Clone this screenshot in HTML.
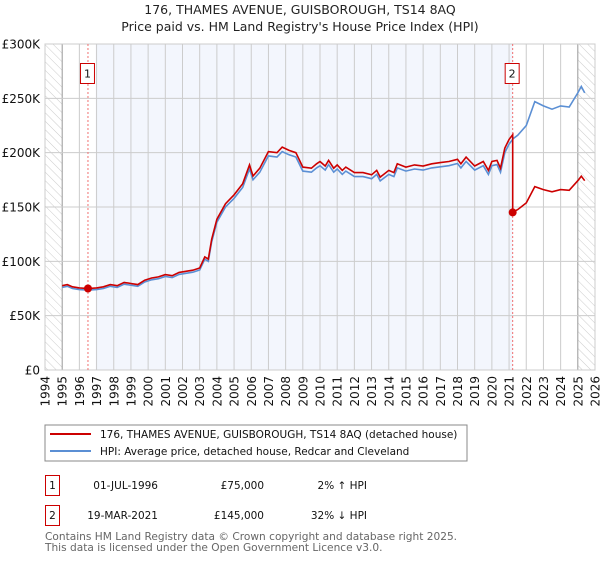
<!DOCTYPE html>
<html><head><meta charset="utf-8"><style>
body{margin:0;background:#fff;font-family:"Liberation Sans","DejaVu Sans",sans-serif}
svg text{font-family:"DejaVu Sans","Liberation Sans",sans-serif}
</style></head><body>
<svg id="c" width="600" height="560" xmlns="http://www.w3.org/2000/svg">
<defs><pattern id="hatch" width="6" height="6" patternUnits="userSpaceOnUse" patternTransform="rotate(-45)"><line x1="0" y1="0" x2="0" y2="6" stroke="#ccc" stroke-width="1"/></pattern></defs>
<text x="300" y="14" text-anchor="middle" font-size="12.5" fill="#222">176, THAMES AVENUE, GUISBOROUGH, TS14 8AQ</text>
<text x="300" y="31" text-anchor="middle" font-size="12.5" fill="#222">Price paid vs. HM Land Registry's House Price Index (HPI)</text>
<g id="plot"></g>
<rect x="45" y="425" width="422" height="36" fill="#fff" stroke="#888"/>
<line x1="50" y1="434" x2="91" y2="434" stroke="#cc0000" stroke-width="2"/>
<text x="100" y="438" font-size="10.5" fill="#111">176, THAMES AVENUE, GUISBOROUGH, TS14 8AQ (detached house)</text>
<line x1="50" y1="451" x2="91" y2="451" stroke="#5b8fd4" stroke-width="2"/>
<text x="100" y="455" font-size="10.5" fill="#111">HPI: Average price, detached house, Redcar and Cleveland</text>
<g font-size="10.5" fill="#111">
<rect x="45.5" y="475.5" width="14" height="20" fill="#fff" stroke="#cc0000"/>
<text x="52.5" y="489" text-anchor="middle">1</text>
<text x="158" y="489" text-anchor="end">01-JUL-1996</text>
<text x="264" y="489" text-anchor="end">£75,000</text>
<text x="367" y="489" text-anchor="end">2% ↑ HPI</text>
<rect x="45.5" y="505.5" width="14" height="20" fill="#fff" stroke="#cc0000"/>
<text x="52.5" y="519" text-anchor="middle">2</text>
<text x="158" y="519" text-anchor="end">19-MAR-2021</text>
<text x="264" y="519" text-anchor="end">£145,000</text>
<text x="367" y="519" text-anchor="end">32% ↓ HPI</text>
</g>
<text x="45" y="540" font-size="10.6" fill="#666">Contains HM Land Registry data © Crown copyright and database right 2025.</text>
<text x="45" y="551" font-size="10.6" fill="#666">This data is licensed under the Open Government Licence v3.0.</text>
</svg>
<script>
const hpiYears=[1995,1995.3,1995.6,1996,1996.5,1997,1997.4,1997.8,1998.2,1998.6,1999,1999.4,1999.8,2000.2,2000.6,2001,2001.4,2001.8,2002.2,2002.6,2003,2003.3,2003.5,2003.7,2004,2004.5,2005,2005.5,2005.9,2006.1,2006.5,2007,2007.5,2007.8,2008.2,2008.6,2009,2009.5,2009.8,2010,2010.3,2010.5,2010.8,2011,2011.3,2011.5,2012,2012.5,2013,2013.3,2013.5,2014,2014.3,2014.5,2015,2015.5,2016,2016.5,2017,2017.5,2018,2018.2,2018.5,2019,2019.5,2019.8,2020,2020.3,2020.5,2020.75,2021,2021.25,2021.5,2022,2022.5,2023,2023.5,2024,2024.5,2025,2025.2,2025.4];
const hpiValues=[76,77,75,74,73.5,74,75,77,76,79,78,77,81,83,84,86,85,88,89,90,92,102,100,118,136,150,158,168,185,175,182,197,196,201,198,196,183,182,186,188,184,189,182,185,180,183,178,178,176,180,174,180,178,186,183,185,184,186,187,188,190,186,192,184,188,180,188,189,182,200,208,213,216,225,247,243,240,243,242,255,261,255];
const saleDates=[1996.5,2021.21];
const salePrices=[75,145];
const yTicks=[0,50,100,150,200,250,300];
const yTickLabels=["£0","£50K","£100K","£150K","£200K","£250K","£300K"];
const xTicks=[];for(let y=1994;y<=2026;y++)xTicks.push(y);
const X0=45,X1=595,Y0=370,Y1=44;
const xs=t=>X0+(t-1994)/(2026-1994)*(X1-X0);
const ys=v=>Y0-v/300*(Y0-Y1);
const NS="http://www.w3.org/2000/svg";
const g=document.getElementById('plot');
function mk(tag,attrs){const e=document.createElementNS(NS,tag);for(const k in attrs)e.setAttribute(k,attrs[k]);g.appendChild(e);return e;}
function hpiAt(t){for(let i=0;i<hpiYears.length-1;i++){if(t>=hpiYears[i]&&t<=hpiYears[i+1]){const f=(t-hpiYears[i])/(hpiYears[i+1]-hpiYears[i]);return hpiValues[i]+f*(hpiValues[i+1]-hpiValues[i]);}}return hpiValues[hpiValues.length-1];}
let e;
e=mk('rect',{x:X0,y:Y1,width:X1-X0,height:Y0-Y1,fill:'#fff'});

e=mk('rect',{x:xs(saleDates[0]+0.45),y:Y1,width:xs(saleDates[1])-xs(saleDates[0]+0.45),height:Y0-Y1,fill:'#f3f6fd'});

e=mk('rect',{x:X0,y:Y1,width:xs(1995)-X0,height:Y0-Y1,fill:'url(#hatch)'});

e=mk('rect',{x:xs(2025),y:Y1,width:X1-xs(2025),height:Y0-Y1,fill:'url(#hatch)'});

xTicks.forEach(t=>{const x=xs(t);
 e=mk('line',{x1:x,x2:x,y1:Y1,y2:Y0,stroke:(t==1995||t==2025)?'#999':'#ccc','stroke-width':1});
 
 e=mk('text',{x:0,y:0,'font-size':12,fill:'#111','text-anchor':'end',transform:`translate(${x+4.5},${Y0+6}) rotate(-90)`});
 e.textContent=t;
 });
yTicks.forEach((v,i)=>{const y=ys(v);
 e=mk('line',{x1:X0,x2:X1,y1:y,y2:y,stroke:'#ccc','stroke-width':1});
 
 e=mk('text',{x:40,y:y+4.5,'font-size':12,fill:'#111','text-anchor':'end'});
 e.textContent=yTickLabels[i];
 });
e=mk('rect',{x:X0,y:Y1,width:X1-X0,height:Y0-Y1,fill:'none',stroke:'#ccc'});

saleDates.forEach((d,i)=>{const x=xs(d);
 e=mk('line',{x1:x,x2:x,y1:Y1,y2:Y0,stroke:'#f07070','stroke-width':1,'stroke-dasharray':'2,2'});
 
 e=mk('rect',{x:x-7.5,y:63.5,width:14,height:20,fill:'#fff',stroke:'#cc0000'});
 
 e=mk('text',{x:x-0.5,y:77.5,'font-size':11,fill:'#111','text-anchor':'middle'});
 e.textContent=String(i+1);
 });
let p=hpiYears.map((t,i)=>(i?'L':'M')+xs(t).toFixed(1)+','+ys(hpiValues[i]).toFixed(1)).join('');
e=mk('path',{d:p,fill:'none',stroke:'#5b8fd4','stroke-width':1.6});

const r0=salePrices[0]/hpiAt(saleDates[0]),r1=salePrices[1]/hpiAt(saleDates[1]);
let pts=[];
hpiYears.forEach((t,i)=>{if(t<saleDates[1])pts.push([t,hpiValues[i]*r0]);});
pts.push([saleDates[1],hpiAt(saleDates[1])*r0]);
pts.push([saleDates[1],salePrices[1]]);
hpiYears.forEach((t,i)=>{if(t>saleDates[1])pts.push([t,hpiValues[i]*r1]);});
p=pts.map((q,i)=>(i?'L':'M')+xs(q[0]).toFixed(1)+','+ys(q[1]).toFixed(1)).join('');
e=mk('path',{d:p,fill:'none',stroke:'#cc0000','stroke-width':1.6});

saleDates.forEach((d,i)=>{
 e=mk('circle',{cx:xs(d),cy:ys(salePrices[i]),r:4,fill:'#cc0000'});
 });
</script>
</body></html>
